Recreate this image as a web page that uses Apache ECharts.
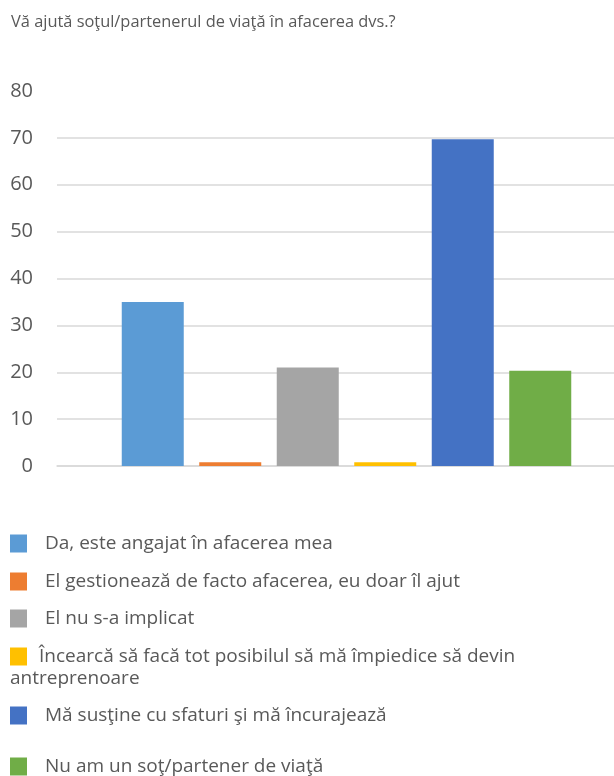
<!DOCTYPE html>
<html>
<head>
<meta charset="utf-8">
<script src="https://cdn.jsdelivr.net/npm/echarts@6/dist/echarts.min.js"></script>
<style>
  html, body { margin: 0; padding: 0; background: #fff; }
  #chart { width: 614px; height: 776px; }
</style>
</head>
<body>
<div id="chart"></div>
<script>
  // answer options (series names) and their values
  var answers = [
    'Da, este angajat în afacerea mea',
    'El gestionează de facto afacerea, eu doar îl ajut',
    'El nu s-a implicat',
    'Încearcă să facă tot posibilul să mă împiedice să devin',
    'Mă susţine cu sfaturi şi mă încurajează',
    'Nu am un soţ/partener de viaţă'
  ]
  var values = [35, 0.8, 21, 0.8, 69.7, 20.3]
  var colors = ['#5B9BD5', '#ED7D31', '#A5A5A5', '#FFC000', '#4472C4', '#70AD47']
  var yTicks = [0, 10, 20, 30, 40, 50, 60, 70, 80]

  var legendTops = [534, 572, 609, 647, 706, 757]
  var legendPads = [13, 13, 13, 7, 13, 13]

  var chart = echarts.init(document.getElementById('chart'))

  var series = []
  var legends = []
  for (var i = 0; i < answers.length; i++) {
    series.push({
      name: answers[i],
      type: 'bar',
      barWidth: 62,
      barGap: '25%',
      data: [values[i]],
      itemStyle: { color: colors[i] }
    })
    legends.push({
      left: 10,
      top: legendTops[i],
      padding: 0,
      orient: 'vertical',
      itemWidth: 17,
      itemHeight: 18,
      icon: 'rect',
      selectedMode: false,
      data: [answers[i]],
      textStyle: {
        fontFamily: 'Open Sans',
        fontSize: 19,
        color: '#595959',
        padding: [0, 0, 0, legendPads[i]]
      }
    })
  }

  // grey split lines for 0..70, none at the top value
  var lineColors = yTicks.map(function (v, k) {
    return k === yTicks.length - 1 ? 'rgba(0,0,0,0)' : '#d9d9d9'
  })

  var option = {
    animation: false,
    backgroundColor: '#fff',
    title: {
      text: 'Vă ajută soţul/partenerul de viaţă în afacerea dvs.?',
      left: 6,
      top: 9,
      textStyle: {
        fontFamily: 'Open Sans',
        fontWeight: 'normal',
        fontSize: 16.4,
        color: '#595959'
      }
    },
    legend: legends,
    graphic: [{
      type: 'text',
      left: 10,
      top: 669,
      style: {
        text: 'antreprenoare',
        fontFamily: 'Open Sans',
        fontSize: 19,
        fill: '#595959'
      }
    }],
    grid: {
      left: 57,
      width: 579,
      top: 91,
      bottom: 310,
      outerBoundsMode: 'none'
    },
    xAxis: {
      type: 'category',
      data: [''],
      axisLine: { lineStyle: { color: '#d9d9d9', width: 1.5 } },
      axisTick: { show: false },
      axisLabel: { show: false }
    },
    yAxis: {
      type: 'value',
      min: yTicks[0],
      max: yTicks[yTicks.length - 1],
      interval: 10,
      axisLine: { show: false },
      axisTick: { show: false },
      axisLabel: {
        margin: 24,
        fontFamily: 'Open Sans',
        fontSize: 20,
        color: '#595959'
      },
      splitLine: { lineStyle: { color: lineColors, width: 1.5 } }
    },
    series: series
  }

  chart.setOption(option)
</script>
</body>
</html>
